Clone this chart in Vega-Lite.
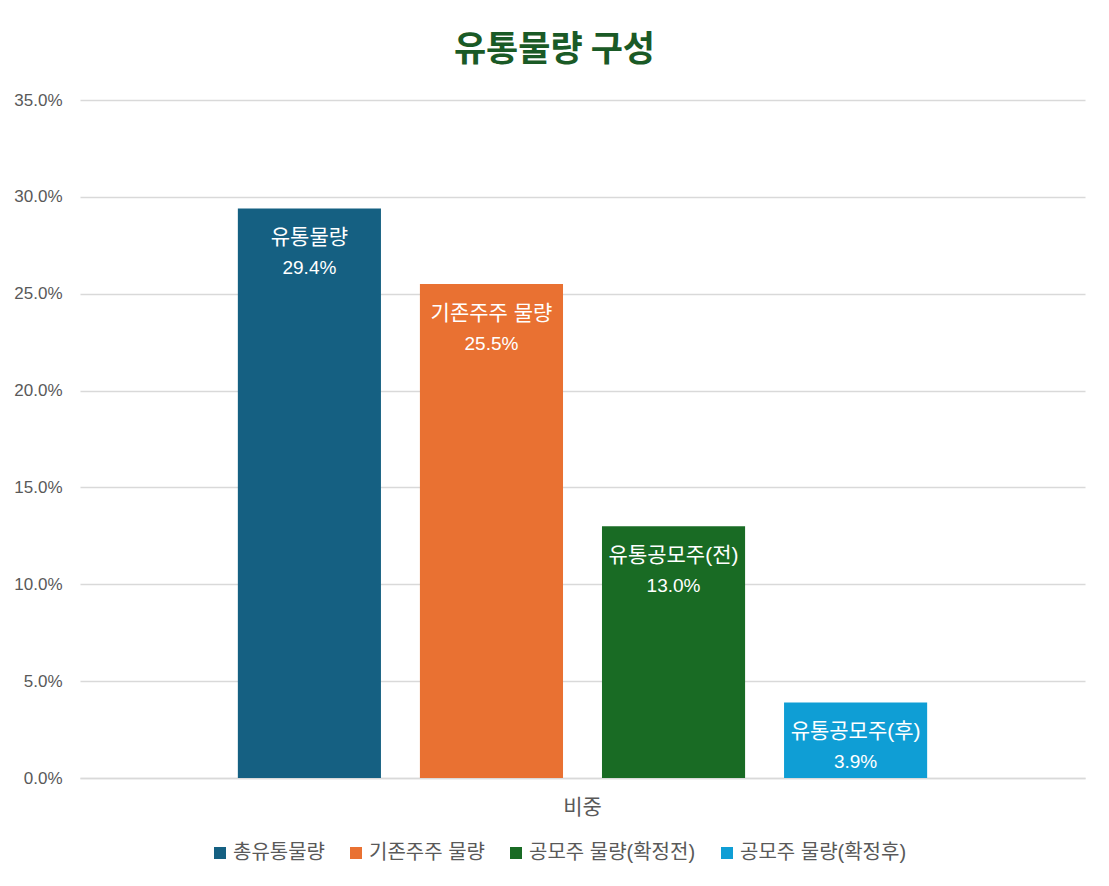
{
  "$schema": "https://vega.github.io/schema/vega-lite/v6.json",
  "width": 1005,
  "height": 678,
  "autosize": "none",
  "padding": {"left": 80, "top": 100, "right": 24, "bottom": 108},
  "background": "white",
  "title": {
    "text": "유통물량 구성",
    "font": "Noto Sans CJK KR",
    "fontSize": 35,
    "fontWeight": "bold",
    "color": "#1a5a26",
    "anchor": "middle",
    "dx": -28,
    "offset": 23
  },
  "data": {
    "values": [
      {"cat": "비중", "legend": "총유통물량", "label": "유통물량", "value": 0.294},
      {"cat": "비중", "legend": "기존주주 물량", "label": "기존주주 물량", "value": 0.255},
      {"cat": "비중", "legend": "공모주 물량(확정전)", "label": "유통공모주(전)", "value": 0.130},
      {"cat": "비중", "legend": "공모주 물량(확정후)", "label": "유통공모주(후)", "value": 0.039}
    ]
  },
  "encoding": {
    "x": {
      "field": "cat",
      "type": "nominal",
      "title": null,
      "scale": {"paddingInner": 0, "paddingOuter": 0.19},
      "axis": {
        "labelAngle": 0,
        "ticks": false,
        "domainColor": "#d9d9d9",
        "domainWidth": 1.5,
        "labelFontSize": 21,
        "labelColor": "#595959",
        "labelPadding": 18
      }
    },
    "xOffset": {
      "field": "legend",
      "type": "nominal",
      "sort": ["총유통물량", "기존주주 물량", "공모주 물량(확정전)", "공모주 물량(확정후)"],
      "scale": {"paddingInner": 0.214, "paddingOuter": 0.107}
    },
    "y": {
      "field": "value",
      "type": "quantitative",
      "title": null,
      "scale": {"domain": [0, 0.35], "nice": false},
      "axis": {
        "values": [0, 0.05, 0.1, 0.15, 0.2, 0.25, 0.3, 0.35],
        "format": ".1%",
        "domain": false,
        "ticks": false,
        "gridColor": "#d9d9d9",
        "gridWidth": 1.5,
        "labelFontSize": 17,
        "labelColor": "#595959",
        "labelPadding": 18
      }
    }
  },
  "layer": [
    {
      "mark": {"type": "bar"},
      "encoding": {
        "color": {
          "field": "legend",
          "type": "nominal",
          "sort": ["총유통물량", "기존주주 물량", "공모주 물량(확정전)", "공모주 물량(확정후)"],
          "scale": {"range": ["#156082", "#e97132", "#196b24", "#0f9ed5"]},
          "legend": {
            "title": null,
            "orient": "none",
            "legendX": 130,
            "legendY": 743,
            "direction": "horizontal",
            "symbolType": "square",
            "symbolSize": 144,
            "symbolStrokeWidth": 0,
            "labelFontSize": 20,
            "labelColor": "#595959",
            "labelLimit": 400,
            "labelOffset": 3,
            "columnPadding": 21,
            "padding": 0
          }
        }
      }
    },
    {
      "mark": {"type": "text", "baseline": "middle", "dy": 30, "fontSize": 21, "color": "white"},
      "encoding": {"text": {"field": "label"}}
    },
    {
      "mark": {"type": "text", "baseline": "middle", "dy": 60, "fontSize": 19, "color": "white"},
      "encoding": {"text": {"field": "value", "format": ".1%"}}
    }
  ],
  "config": {
    "font": "Liberation Sans, Noto Sans CJK KR",
    "view": {"stroke": null}
  }
}
